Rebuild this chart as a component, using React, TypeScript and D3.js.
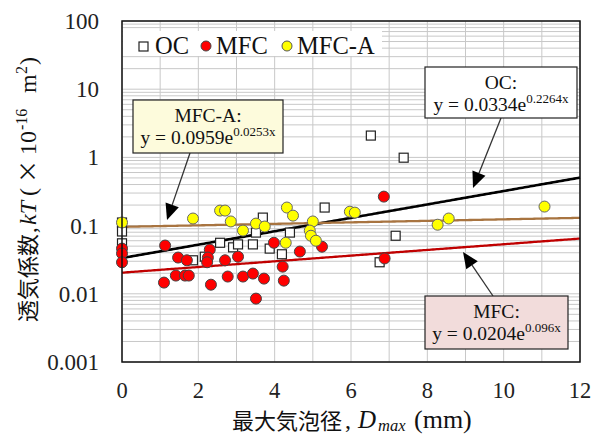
import React from "react";
import * as d3 from "d3";

const OC_X = [0, 0, 0, 1.86, 2.17, 2.57, 2.91, 3.04, 3.43, 3.51, 3.69, 3.87, 4.19, 4.4, 5.31, 6.52, 7.38, 7.17, 6.75];
const OC_Y = [0.111, 0.082, 0.055, 0.031, 0.035, 0.056, 0.048, 0.053, 0.053, 0.079, 0.131, 0.046, 0.038, 0.079, 0.184, 2.09, 0.99, 0.071, 0.029];

const MFC_X = [0, 0, 0, 1.13, 1.47, 1.7, 1.41, 1.65, 1.75, 1.1, 2.3, 2.25, 2.23, 2.33, 2.7, 2.77, 3.04, 3.17, 3.43, 3.51, 3.72, 3.98, 4.21, 4.24, 4.66, 5.24, 6.86, 6.88];
const MFC_Y = [0.046, 0.039, 0.029, 0.051, 0.034, 0.031, 0.0185, 0.0185, 0.0185, 0.0146, 0.0445, 0.034, 0.029, 0.0136, 0.031, 0.0179, 0.035, 0.0179, 0.0198, 0.0085, 0.0167, 0.056, 0.025, 0.0156, 0.0416, 0.049, 0.266, 0.033];

const MFCA_X = [0, 1.86, 2.57, 2.7, 2.85, 3.17, 3.51, 3.74, 4.32, 4.48, 4.29, 5.0, 4.92, 4.95, 5.08, 5.97, 6.1, 8.27, 8.56, 11.07];
const MFCA_Y = [0.111, 0.127, 0.166, 0.166, 0.115, 0.0845, 0.107, 0.097, 0.184, 0.14, 0.056, 0.115, 0.0845, 0.071, 0.06, 0.16, 0.155, 0.103, 0.127, 0.19];

const SERIES = ["OC", "MFC", "MFC-A"];
const TREND_A = [0.0334, 0.0204, 0.0959];
const TREND_B = [0.2264, 0.096, 0.0253];
const TREND_A_LABEL = ["0.0334", "0.0204", "0.0959"];
const TREND_B_LABEL = ["0.2264x", "0.096x", "0.0253x"];

const X_TICKS = [0, 2, 4, 6, 8, 10, 12];
const Y_TICKS = [0.001, 0.01, 0.1, 1, 10, 100];
const Y_TICK_LABELS = ["0.001", "0.01", "0.1", "1", "10", "100"];

const SERIF = "'Liberation Serif', 'Times New Roman', serif";
const CJK = "'Noto Sans CJK JP', sans-serif";

export default function App() {
  const W = 593, H = 435;
  const L = 122, R = 580, T = 21, B = 362;
  const x = d3.scaleLinear().domain([0, 12]).range([L, R]);
  const y = d3.scaleLog().domain([0.001, 100]).range([B, T]);

  const vGrid = d3.range(0, 13, 1);
  const hGrid: number[] = [];
  [0.001, 0.01, 0.1, 1, 10].forEach((d) => {
    for (let k = 1; k <= 9; k++) hGrid.push(d * k);
  });
  hGrid.push(100);

  const trendColors = ["#000000", "#c00000", "#a87440"];
  const trendWidths = [2.6, 2.3, 2.3];
  const xs = d3.range(0, 12.001, 0.05);
  const line = d3
    .line<number[]>()
    .x((d) => x(d[0]))
    .y((d) => y(d[1]));

  const ocPts = OC_X.map((v, i) => [v, OC_Y[i]]);
  const mfcPts = MFC_X.map((v, i) => [v, MFC_Y[i]]);
  const mfcaPts = MFCA_X.map((v, i) => [v, MFCA_Y[i]]);

  const boxes = [
    { idx: 0, x0: 425, y0: 67, w: 152, h: 51, fill: "#ffffff", from: [501, 118], to: [473, 188] },
    { idx: 1, x0: 425, y0: 296, w: 143, h: 53, fill: "#f2dcdb", from: [493, 296], to: [463, 252] },
    { idx: 2, x0: 133, y0: 100, w: 150, h: 53, fill: "#fdfbdc", from: [190, 153], to: [167, 220] },
  ];

  const arrow = (from: number[], to: number[]) => {
    const dx = to[0] - from[0], dy = to[1] - from[1];
    const len = Math.hypot(dx, dy);
    const ux = dx / len, uy = dy / len;
    const hl = 16, hw = 7;
    const bx = to[0] - ux * hl, by = to[1] - uy * hl;
    const p1 = [bx - uy * hw, by + ux * hw];
    const p2 = [bx + uy * hw, by - ux * hw];
    return (
      <g>
        <line x1={from[0]} y1={from[1]} x2={bx} y2={by} stroke="#333" strokeWidth={1.3} />
        <polygon points={`${to[0]},${to[1]} ${p1[0]},${p1[1]} ${p2[0]},${p2[1]}`} fill="#000" />
      </g>
    );
  };

  return (
    <svg width={W} height={H} style={{ position: "absolute", left: 0, top: 0, background: "#fff" }}>
      <rect x={0} y={0} width={W} height={H} fill="#fff" />
      {/* grid */}
      {hGrid.map((v, i) => (
        <line key={"h" + i} x1={L} x2={R} y1={y(v)} y2={y(v)} stroke="#c8c8c8" strokeWidth={1} />
      ))}
      {vGrid.map((v, i) => (
        <line key={"v" + i} x1={x(v)} x2={x(v)} y1={T} y2={B} stroke="#c8c8c8" strokeWidth={1} />
      ))}

      {/* legend */}
      <rect x={123} y={31} width={259} height={25} fill="#fff" />
      <rect x={139} y={42} width={9} height={9} fill="#fff" stroke="#222" strokeWidth={1.2} />
      <text x={155} y={54} fontFamily={SERIF} fontSize={24.5} fill="#111">{SERIES[0]}</text>
      <circle cx={206} cy={46} r={5} fill="#ff0000" stroke="#444" strokeWidth={1} />
      <text x={216} y={54} fontFamily={SERIF} fontSize={24.5} fill="#111">{SERIES[1]}</text>
      <circle cx={287} cy={46} r={5} fill="#ffff00" stroke="#555" strokeWidth={1} />
      <text x={297} y={54} fontFamily={SERIF} fontSize={24.5} fill="#111">{SERIES[2]}</text>

      {/* trend lines */}
      {TREND_A.map((a, i) => (
        <path
          key={"t" + i}
          d={line(xs.map((v) => [v, a * Math.exp(TREND_B[i] * v)])) || ""}
          fill="none"
          stroke={trendColors[i]}
          strokeWidth={trendWidths[i]}
        />
      ))}

      {/* points */}
      {ocPts.map((p, i) => (
        <rect key={"oc" + i} x={x(p[0]) - 4.5} y={y(p[1]) - 4.5} width={9} height={9} fill="#fff" stroke="#222" strokeWidth={1.2} />
      ))}
      {mfcPts.map((p, i) => (
        <circle key={"m" + i} cx={x(p[0])} cy={y(p[1])} r={5.5} fill="#ff0000" stroke="#444" strokeWidth={1} />
      ))}
      {mfcaPts.map((p, i) => (
        <circle key={"a" + i} cx={x(p[0])} cy={y(p[1])} r={5.5} fill="#ffff00" stroke="#666" strokeWidth={1} />
      ))}

      {/* annotations */}
      {boxes.map((b) => (
        <g key={"b" + b.idx}>
          {arrow(b.from, b.to)}
          <rect x={b.x0} y={b.y0} width={b.w} height={b.h} fill={b.fill} stroke="#222" strokeWidth={1.2} />
          <text x={b.x0 + b.w / 2} y={b.y0 + 22} textAnchor="middle" fontFamily={SERIF} fontSize={19.5} fill="#111">
            {SERIES[b.idx]}:
          </text>
          <text x={b.x0 + b.w / 2} y={b.y0 + 44} textAnchor="middle" fontFamily={SERIF} fontSize={19.5} fill="#111">
            {`y = ${TREND_A_LABEL[b.idx]}e`}
            <tspan fontSize={13} dy={-8}>{TREND_B_LABEL[b.idx]}</tspan>
          </text>
        </g>
      ))}

      {/* plot border */}
      <rect x={L} y={T} width={R - L} height={B - T} fill="none" stroke="#111" strokeWidth={1.5} />

      {/* y ticks */}
      {Y_TICKS.map((v, i) => (
        <text key={"yt" + i} x={99} y={y(v) + 8} textAnchor="end" fontFamily={SERIF} fontSize={23} fill="#222">
          {Y_TICK_LABELS[i]}
        </text>
      ))}
      {/* x ticks */}
      {X_TICKS.map((v, i) => (
        <text key={"xt" + i} x={x(v)} y={398} textAnchor="middle" fontFamily={SERIF} fontSize={22.5} fill="#222">
          {v}
        </text>
      ))}

      {/* x title */}
      <text x={232} y={429} fontFamily={CJK} fontSize={22} fill="#111">最大気泡径</text>
      <text x={345} y={428} fontFamily={SERIF} fontSize={24} fill="#111">,</text>
      <text x={358} y={428} fontFamily={SERIF} fontSize={25} fontStyle="italic" fill="#111">D</text>
      <text x={378} y={431} fontFamily={SERIF} fontSize={16.5} fontStyle="italic" fill="#111">max</text>
      <text x={414} y={428} fontFamily={SERIF} fontSize={26} fill="#111">(mm)</text>

      {/* y title */}
      <g transform="translate(36,0) rotate(-90)">
        <text x={-322} y={0} fontFamily={CJK} fontSize={22} fill="#111">透気係数</text>
        <text x={-233} y={0} fontFamily={SERIF} fontSize={23} fill="#111">,</text>
        <text x={-225} y={0} fontFamily={SERIF} fontSize={24} fontStyle="italic" fill="#111">kT</text>
        <text x={-196} y={0} fontFamily={SERIF} fontSize={24} fill="#111">(</text>
        <text x={-183} y={0} fontFamily={CJK} fontSize={23} fill="#111">×</text>
        <text x={-155} y={0} fontFamily={SERIF} fontSize={24} fill="#111">10</text>
        <text x={-130} y={-9} fontFamily={SERIF} fontSize={16} fill="#111">-16</text>
        <text x={-93} y={0} fontFamily={SERIF} fontSize={24} fill="#111">m</text>
        <text x={-74} y={-9} fontFamily={SERIF} fontSize={16} fill="#111">2</text>
        <text x={-65} y={0} fontFamily={SERIF} fontSize={24} fill="#111">)</text>
      </g>
    </svg>
  );
}
